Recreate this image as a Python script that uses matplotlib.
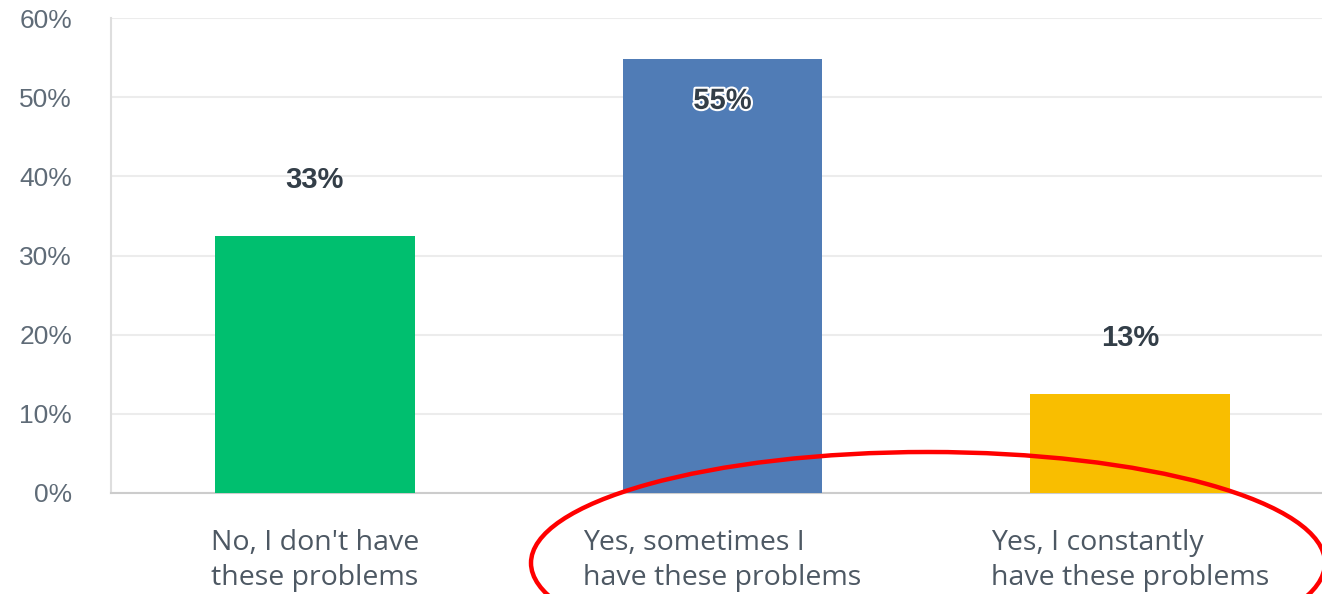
import numpy as np
import matplotlib
matplotlib.use("Agg")
import matplotlib.pyplot as plt
from matplotlib.patches import Ellipse
import matplotlib.patheffects as pe

categories = ["No, I don't have\nthese problems",
              "Yes, sometimes I\nhave these problems",
              "Yes, I constantly\nhave these problems"]
values = [32.5, 54.8, 12.5]
value_labels = ["33%", "55%", "13%"]
colors = ["#00bf6f", "#507cb6", "#f9be00"]
yticks = [0, 10, 20, 30, 40, 50, 60]

fig = plt.figure(figsize=(13.22, 5.94), dpi=100)
ax = fig.add_axes([111 / 1322, 101 / 594, 1223 / 1322, 475 / 594])

x = np.arange(len(categories))
ax.bar(x, values, width=0.49, color=colors, zorder=3)

ax.set_xlim(-0.5, 2.5)
ax.set_ylim(0, 60)
ax.set_yticks(yticks, [f"{v}%" for v in yticks],
              fontsize=19, color="#5f6b77", family="Liberation Sans")
ax.set_xticks(x, categories, fontsize=20.5, color="#4d5863",
              family="Open Sans", ma="left", linespacing=1.33)
ax.tick_params(axis="y", length=0, pad=28)
ax.tick_params(axis="x", length=0, pad=26)

ax.grid(axis="y", color="#ececec", lw=1.5, zorder=0)
for s in ["top", "right"]:
    ax.spines[s].set_visible(False)
ax.spines["left"].set_color("#dedede")
ax.spines["left"].set_linewidth(1.5)
ax.spines["bottom"].set_color("#cccccc")
ax.spines["bottom"].set_linewidth(1.5)

for xi, v, lab in zip(x, values, value_labels):
    if v > 50:
        t = ax.annotate(lab, (xi, v), xytext=(0, -30), textcoords="offset points",
                        ha="center", va="center", fontsize=21, fontweight="bold",
                        color="#333e48", family="Liberation Sans", zorder=5)
        t.set_path_effects([pe.withStroke(linewidth=3, foreground="white")])
    else:
        ax.annotate(lab, (xi, v), xytext=(0, 40), textcoords="offset points",
                    ha="center", va="center", fontsize=21, fontweight="bold",
                    color="#333e48", family="Liberation Sans", zorder=5)

# red highlight ellipse around the "Yes" answers
fig.patches.append(Ellipse((928 / 1322, 31 / 594), 794 / 1322, 222 / 594,
                           transform=fig.transFigure, fill=False,
                           edgecolor="#ff0000", lw=3.2, zorder=10))

fig.savefig("out.png", dpi=100)
